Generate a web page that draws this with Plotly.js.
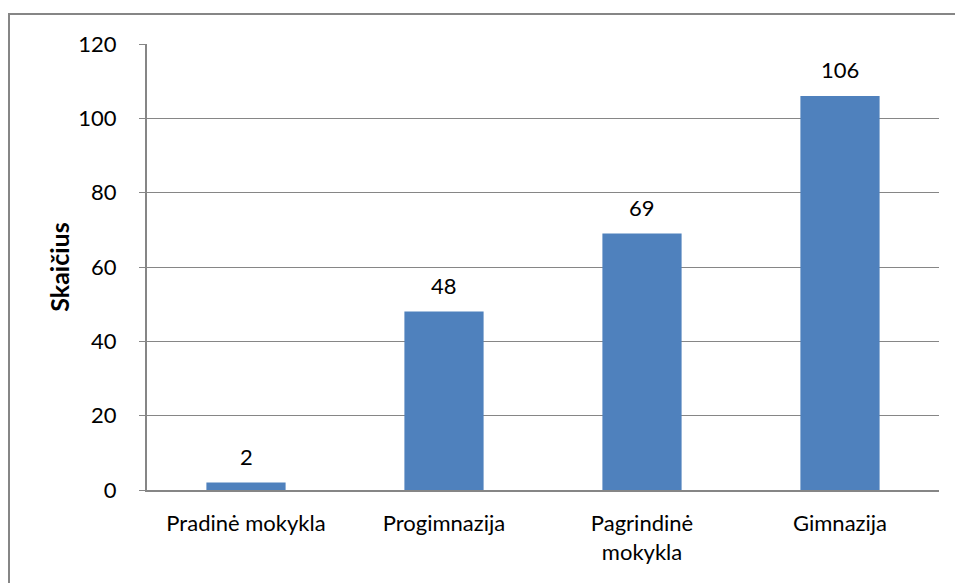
<!DOCTYPE html>
<html>
<head>
<meta charset="utf-8">
<script src="https://cdn.plot.ly/plotly-3.0.1.min.js"></script>
<style>
html,body{margin:0;padding:0;background:#fff;}
#wrap{position:relative;width:955px;height:583px;overflow:hidden;}
#chart{width:955px;height:583px;}
#frame{position:absolute;left:8px;top:13px;width:1000px;height:700px;border:2px solid #868686;box-sizing:border-box;pointer-events:none;}
</style>
</head>
<body>
<div id="wrap"><div id="chart"></div><div id="frame"></div></div>
<script>
const categories = ["Pradinė mokykla", "Progimnazija", "Pagrindinė<br>mokykla", "Gimnazija"];
const values = [2, 48, 69, 106];
const tickVals = [0, 20, 40, 60, 80, 100, 120];

const font = "Lato, 'Open Sans', sans-serif";
const fs = 22;

const annotations = categories.map((c, i) => ({
  x: c, y: values[i], xref: 'x', yref: 'y',
  text: String(values[i]), showarrow: false,
  yanchor: 'bottom', yshift: 11,
  font: {family: font, size: fs, color: '#000'}
}));

Plotly.newPlot('chart', [{
  type: 'bar',
  x: categories,
  y: values,
  marker: {color: '#4F81BD', line: {width: 0}},
  hoverinfo: 'none'
}], {
  width: 955, height: 583,
  margin: {l: 147, r: 16, t: 44, b: 93},
  paper_bgcolor: '#fff', plot_bgcolor: '#fff',
  bargap: 0.6,
  showlegend: false,
  font: {family: font, size: fs, color: '#000'},
  annotations: annotations,
  xaxis: {
    type: 'category',
    showgrid: false,
    showline: true, linecolor: '#868686', linewidth: 2,
    ticks: '', tickfont: {family: font, size: fs, color: '#000'},
    ticklabelstandoff: 13,
    zeroline: false, fixedrange: true
  },
  yaxis: {
    range: [0, 120],
    tickvals: tickVals,
    ticktext: tickVals.map(String),
    showgrid: true, gridcolor: '#868686', gridwidth: 1,
    showline: true, linecolor: '#868686', linewidth: 2,
    ticks: 'outside', ticklen: 6, tickcolor: '#868686', tickwidth: 1,
    ticklabelstandoff: 18,
    tickfont: {family: font, size: fs, color: '#000'},
    zeroline: false, fixedrange: true,
    title: {text: '<b>Skaičius</b>', font: {family: font, size: 25, color: '#000'}, standoff: 2}
  }
}, {displayModeBar: false, staticPlot: true});
</script>
</body>
</html>
